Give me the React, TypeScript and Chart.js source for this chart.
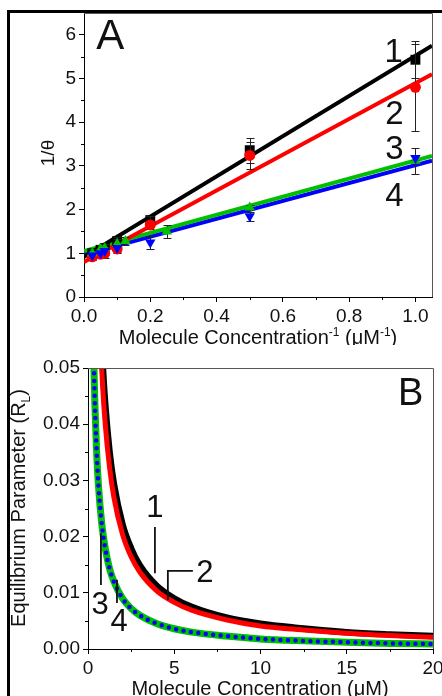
import React, { useEffect, useRef } from 'react';
import { Chart, registerables } from 'chart.js';

Chart.register(...registerables);

const FONT = "'Liberation Sans', Arial, Helvetica, sans-serif";
const TXT = '#111';

// ---------------- Panel A (Langmuir linearisation) ----------------
const xTicksA = [0, 0.2, 0.4, 0.6, 0.8, 1.0];
const xMinorA = [0.1, 0.3, 0.5, 0.7, 0.9];
const yTicksA = [0, 1, 2, 3, 4, 5, 6];
const yMinorA = [0.5, 1.5, 2.5, 3.5, 4.5, 5.5];

const invConc1 = [0.025, 0.05, 0.0625, 0.1, 0.2, 0.5, 1.0];
const invTheta1 = [1.0, 1.08, 1.12, 1.28, 1.76, 3.36, 5.43];
const err1 = [0.1, 0.1, 0.1, 0.1, 0.1, 0.29, 0.42];

const invConc2 = [0.025, 0.05, 0.0625, 0.1, 0.2, 0.5, 1.0];
const invTheta2 = [0.92, 0.98, 1.0, 1.1, 1.65, 3.24, 4.8];
const err2 = [0.08, 0.08, 0.1, 0.1, 0.1, 0.3, 1.0];

const invConc3 = [0.025, 0.05, 0.0625, 0.1, 0.125, 0.25, 0.5, 1.0];
const invTheta3 = [1.0, 1.1, 1.12, 1.22, 1.28, 1.5, 2.05, 3.12];
const err3 = [0.1, 0.1, 0.1, 0.1, 0.1, 0.15, 0.05, 0.3];

const invConc4 = [0.025, 0.05, 0.0625, 0.1, 0.2, 0.5, 1.0];
const invTheta4 = [0.95, 1.0, 1.05, 1.12, 1.25, 1.85, 3.18];
const err4 = [0.1, 0.1, 0.1, 0.1, 0.15, 0.1, 0.05];

const fitX = [0, 1.05];
const fit1 = [0.92, 5.75];
const fit2 = [0.8, 5.1];
const fit3 = [1.05, 3.23];
const fit4 = [0.97, 3.12];

// ---------------- Panel B (separation factor R_L) ----------------
const xTicksB = [0, 5, 10, 15, 20];
const xMinorB = [2.5, 7.5, 12.5, 17.5];
const yTicksB = [0, 0.01, 0.02, 0.03, 0.04, 0.05];
const yMinorB = [0.005, 0.015, 0.025, 0.035, 0.045];

const concB12 = [0.7, 0.75, 0.85, 1.0, 1.25, 1.5, 2, 2.5, 3, 4, 5, 6, 8, 10, 12, 15, 17.5, 20];
const rl1 = [0.061, 0.0571, 0.0508, 0.0435, 0.0351, 0.0294, 0.0222, 0.0179, 0.0149, 0.0112, 0.009, 0.0075, 0.0056, 0.0045, 0.0038, 0.003, 0.0026, 0.0023];
const rl2 = [0.0562, 0.0526, 0.0467, 0.04, 0.0323, 0.027, 0.0204, 0.0164, 0.0137, 0.0103, 0.0083, 0.0069, 0.0052, 0.0041, 0.0035, 0.0028, 0.0024, 0.0021];
const concB34 = [0.3, 0.35, 0.4, 0.5, 0.6, 0.8, 1.0, 1.25, 1.5, 2, 2.5, 3, 4, 5, 6, 8, 10, 12, 15, 17.5, 20];
const rl3 = [0.0571, 0.0494, 0.0435, 0.0351, 0.0294, 0.0222, 0.0179, 0.0143, 0.012, 0.009, 0.0072, 0.006, 0.0045, 0.0036, 0.003, 0.0023, 0.0018, 0.0015, 0.0012, 0.001, 0.0009];
const rl4 = [0.0571, 0.0494, 0.0435, 0.0351, 0.0294, 0.0222, 0.0179, 0.0143, 0.012, 0.009, 0.0072, 0.006, 0.0045, 0.0036, 0.003, 0.0023, 0.0018, 0.0015, 0.0012, 0.001, 0.0009];

const pts = (xs: number[], ys: number[]) => xs.map((x, i) => ({ x, y: ys[i] }));

type Seg = { t: string; s?: 'sup' | 'sub' };

function drawRich(ctx: CanvasRenderingContext2D, segs: Seg[], size: number, x: number, y: number, rotate = false) {
  ctx.save();
  ctx.translate(x, y);
  if (rotate) ctx.rotate(-Math.PI / 2);
  const small = Math.round(size * 0.62);
  const widths = segs.map((sg) => {
    ctx.font = `${sg.s ? small : size}px ${FONT}`;
    return ctx.measureText(sg.t).width;
  });
  const total = widths.reduce((a, b) => a + b, 0);
  let cx = -total / 2;
  ctx.textAlign = 'left';
  ctx.textBaseline = 'alphabetic';
  ctx.fillStyle = TXT;
  const base = size * 0.36;
  segs.forEach((sg, i) => {
    ctx.font = `${sg.s ? small : size}px ${FONT}`;
    const dy = sg.s === 'sup' ? -size * 0.42 : sg.s === 'sub' ? size * 0.22 : 0;
    ctx.fillText(sg.t, cx, base + dy);
    cx += widths[i];
  });
  ctx.restore();
}

type Deco = {
  name: string;
  minorX: number[];
  minorY: number[];
  titles: { segs: Seg[]; size: number; x: number; y: number; rotate?: boolean }[];
  labels: { t: string; size: number; x: number; y: number }[];
  leaders: number[][][];
  errors?: { xs: number[]; ys: number[]; es: number[] }[];
  errorAfterIndex?: number;
};

function makeDeco(cfg: Deco) {
  return {
    id: 'deco_' + cfg.name,
    afterDatasetDraw(chart: any, args: any) {
      if (!cfg.errors || args.index !== cfg.errorAfterIndex) return;
      const ctx = chart.ctx;
      const xs = chart.scales.x;
      const ys = chart.scales.y;
      ctx.save();
      ctx.strokeStyle = '#222';
      ctx.lineWidth = 1;
      cfg.errors.forEach((s) => {
        s.xs.forEach((xv, i) => {
          const px = Math.round(xs.getPixelForValue(xv)) + 0.5;
          const t = Math.round(ys.getPixelForValue(s.ys[i] + s.es[i])) + 0.5;
          const b = Math.round(ys.getPixelForValue(s.ys[i] - s.es[i])) + 0.5;
          ctx.beginPath();
          ctx.moveTo(px, t);
          ctx.lineTo(px, b);
          ctx.moveTo(px - 4, t);
          ctx.lineTo(px + 4, t);
          ctx.moveTo(px - 4, b);
          ctx.lineTo(px + 4, b);
          ctx.stroke();
        });
      });
      ctx.restore();
    },
    afterDraw(chart: any) {
      const ctx = chart.ctx;
      const { left, right, top, bottom } = chart.chartArea;
      const xs = chart.scales.x;
      const ys = chart.scales.y;
      ctx.save();
      // frame (top + right)
      ctx.strokeStyle = '#555';
      ctx.lineWidth = 1;
      ctx.beginPath();
      ctx.moveTo(left, Math.round(top) + 0.5);
      ctx.lineTo(Math.round(right) + 0.5, Math.round(top) + 0.5);
      ctx.lineTo(Math.round(right) + 0.5, bottom);
      ctx.stroke();
      // minor ticks
      ctx.strokeStyle = '#000';
      ctx.beginPath();
      cfg.minorX.forEach((v) => {
        const px = Math.round(xs.getPixelForValue(v)) + 0.5;
        ctx.moveTo(px, bottom);
        ctx.lineTo(px, bottom + 3);
      });
      cfg.minorY.forEach((v) => {
        const py = Math.round(ys.getPixelForValue(v)) + 0.5;
        ctx.moveTo(left, py);
        ctx.lineTo(left - 3, py);
      });
      ctx.stroke();
      // leader lines
      ctx.lineWidth = 1.8;
      ctx.strokeStyle = '#111';
      cfg.leaders.forEach((poly) => {
        ctx.beginPath();
        poly.forEach(([xv, yv], i) => {
          const px = xs.getPixelForValue(xv);
          const py = ys.getPixelForValue(yv);
          if (i === 0) ctx.moveTo(px, py);
          else ctx.lineTo(px, py);
        });
        ctx.stroke();
      });
      // labels
      cfg.labels.forEach((l) => {
        drawRich(ctx, [{ t: l.t }], l.size, xs.getPixelForValue(l.x), ys.getPixelForValue(l.y));
      });
      // titles (pixel positions in canvas)
      cfg.titles.forEach((t) => drawRich(ctx, t.segs, t.size, t.x, t.y, t.rotate));
      ctx.restore();
    },
  };
}

const tickFont = { family: FONT, size: 19 };

function axis(min: number, max: number, ticks: number[], fmt: (v: number) => string, fit: (s: any) => void) {
  return {
    type: 'linear',
    min,
    max,
    afterBuildTicks: (s: any) => {
      s.ticks = ticks.map((v) => ({ value: v }));
    },
    afterFit: fit,
    ticks: {
      callback: (v: any) => fmt(Number(v)),
      font: tickFont,
      color: TXT,
      padding: 3,
      maxRotation: 0,
      autoSkip: false,
    },
    grid: { display: true, drawOnChartArea: false, drawTicks: true, tickLength: 5, tickColor: '#000', tickWidth: 1 },
    border: { display: true, color: '#000', width: 1 },
  };
}

function buildA(canvas: HTMLCanvasElement) {
  const deco = makeDeco({
    name: 'A',
    minorX: xMinorA,
    minorY: yMinorA,
    titles: [
      { segs: [{ t: '1/θ' }], size: 19, x: 47, y: 153, rotate: true },
      {
        segs: [{ t: 'Molecule Concentration' }, { t: '-1', s: 'sup' }, { t: ' (μM' }, { t: '-1', s: 'sup' }, { t: ')' }],
        size: 20,
        x: 258,
        y: 337,
      },
    ],
    labels: [
      { t: 'A', size: 42, x: 0.079, y: 6.03 },
      { t: '1', size: 33, x: 0.934, y: 5.65 },
      { t: '2', size: 33, x: 0.937, y: 4.22 },
      { t: '3', size: 33, x: 0.937, y: 3.42 },
      { t: '4', size: 33, x: 0.937, y: 2.36 },
    ],
    leaders: [],
    errors: [
      { xs: invConc1, ys: invTheta1, es: err1 },
      { xs: invConc2, ys: invTheta2, es: err2 },
      { xs: invConc3, ys: invTheta3, es: err3 },
      { xs: invConc4, ys: invTheta4, es: err4 },
    ],
    errorAfterIndex: 4,
  });
  const fitDs = (ys: number[], color: string, w: number, order: number) => ({
    data: pts(fitX, ys),
    showLine: true,
    borderColor: color,
    borderWidth: w,
    pointRadius: 0,
    clip: 0,
    order,
  });
  return new Chart(canvas, {
    type: 'scatter',
    data: {
      datasets: [
        fitDs(fit1, '#000000', 4, 10),
        fitDs(fit2, '#ff0000', 4, 11),
        fitDs(fit3, '#00c000', 4, 12),
        fitDs(fit4, '#0000ff', 4, 13),
        // markers
        { data: pts(invConc1, invTheta1), pointStyle: 'rect', pointRadius: 7, backgroundColor: '#000', borderColor: '#000', borderWidth: 0, order: 3 } as any,
        { data: pts(invConc2, invTheta2), pointStyle: 'circle', pointRadius: 5.5, backgroundColor: '#ff0000', borderColor: '#ff0000', borderWidth: 0, order: 2 },
        { data: pts(invConc3, invTheta3), pointStyle: 'triangle', pointRadius: 6, backgroundColor: '#00c000', borderColor: '#00c000', borderWidth: 0, order: 1 },
        { data: pts(invConc4, invTheta4), pointStyle: 'triangle', rotation: 180, pointRadius: 6, backgroundColor: '#0000ff', borderColor: '#0000ff', borderWidth: 0, order: 0 },
      ],
    },
    options: {
      responsive: false,
      animation: false,
      devicePixelRatio: 1,
      layout: { padding: { left: 0, top: 13, right: 10, bottom: 0 } },
      plugins: { legend: { display: false }, tooltip: { enabled: false } },
      scales: {
        x: axis(0, 1.05, xTicksA, (v) => v.toFixed(1), (s: any) => {
          s.height = 48;
          s.paddingLeft = 0;
          s.paddingRight = 0;
        }),
        y: axis(0, 6.5, yTicksA, (v) => String(v), (s: any) => {
          s.width = 84;
          s.paddingTop = 0;
          s.paddingBottom = 0;
        }),
      },
    } as any,
    plugins: [deco],
  } as any);
}

function buildB(canvas: HTMLCanvasElement) {
  const deco = makeDeco({
    name: 'B',
    minorX: xMinorB,
    minorY: yMinorB,
    titles: [
      {
        segs: [{ t: 'Equilibrium Parameter (R' }, { t: 'L', s: 'sub' }, { t: ')' }],
        size: 20,
        x: 18,
        y: 163,
        rotate: true,
      },
      { segs: [{ t: 'Molecule Concentration (μM)' }], size: 20, x: 260, y: 343 },
    ],
    labels: [
      { t: 'B', size: 38, x: 18.71, y: 0.0459 },
      { t: '1', size: 31, x: 3.88, y: 0.0254 },
      { t: '2', size: 31, x: 6.78, y: 0.0139 },
      { t: '3', size: 31, x: 0.7, y: 0.0082 },
      { t: '4', size: 31, x: 1.8, y: 0.0052 },
    ],
    leaders: [
      [[3.88, 0.0217], [3.88, 0.0135]],
      [[6.08, 0.0139], [4.63, 0.0139], [4.63, 0.0087]],
      [[0.75, 0.0206], [0.75, 0.0114]],
      [[1.68, 0.0123], [1.68, 0.0082]],
    ],
  });
  const curve = (xs: number[], ys: number[], color: string, w: number, order: number, extra: any = {}) => ({
    data: pts(xs, ys),
    showLine: true,
    borderColor: color,
    borderWidth: w,
    pointRadius: 0,
    cubicInterpolationMode: 'monotone',
    clip: 0,
    order,
    ...extra,
  });
  return new Chart(canvas, {
    type: 'scatter',
    data: {
      datasets: [
        curve(concB12, rl1, '#000000', 6.5, 3),
        curve(concB12, rl2, '#ff0000', 5, 2),
        curve(concB34, rl3, '#00c000', 7, 1),
        curve(concB34, rl4, '#0000ff', 4.5, 0, { borderDash: [0, 7.5], borderCapStyle: 'round' }),
      ],
    },
    options: {
      responsive: false,
      animation: false,
      devicePixelRatio: 1,
      layout: { padding: { left: 0, top: 23, right: 9, bottom: 0 } },
      plugins: { legend: { display: false }, tooltip: { enabled: false } },
      scales: {
        x: axis(0, 20, xTicksB, (v) => String(v), (s: any) => {
          s.height = 47;
          s.paddingLeft = 0;
          s.paddingRight = 0;
        }),
        y: axis(0, 0.05, yTicksB, (v) => v.toFixed(2), (s: any) => {
          s.width = 88;
          s.paddingTop = 0;
          s.paddingBottom = 0;
        }),
      },
    } as any,
    plugins: [deco],
  } as any);
}

export default function App() {
  const refA = useRef<HTMLCanvasElement>(null);
  const refB = useRef<HTMLCanvasElement>(null);
  useEffect(() => {
    const a = buildA(refA.current!);
    const b = buildB(refB.current!);
    return () => {
      a.destroy();
      b.destroy();
    };
  }, []);
  return (
    <div style={{ position: 'fixed', left: 0, top: 0, width: 442, height: 696, overflow: 'hidden', background: '#fff' }}>
      <canvas ref={refA} width={442} height={345} style={{ position: 'absolute', left: 0, top: 0, width: 442, height: 345 }} />
      <canvas ref={refB} width={442} height={351} style={{ position: 'absolute', left: 0, top: 345, width: 442, height: 351 }} />
      <div
        style={{
          position: 'absolute',
          left: 7,
          top: 10,
          width: 600,
          height: 900,
          border: '3px solid #000',
          boxSizing: 'border-box',
          pointerEvents: 'none',
        }}
      />
    </div>
  );
}
